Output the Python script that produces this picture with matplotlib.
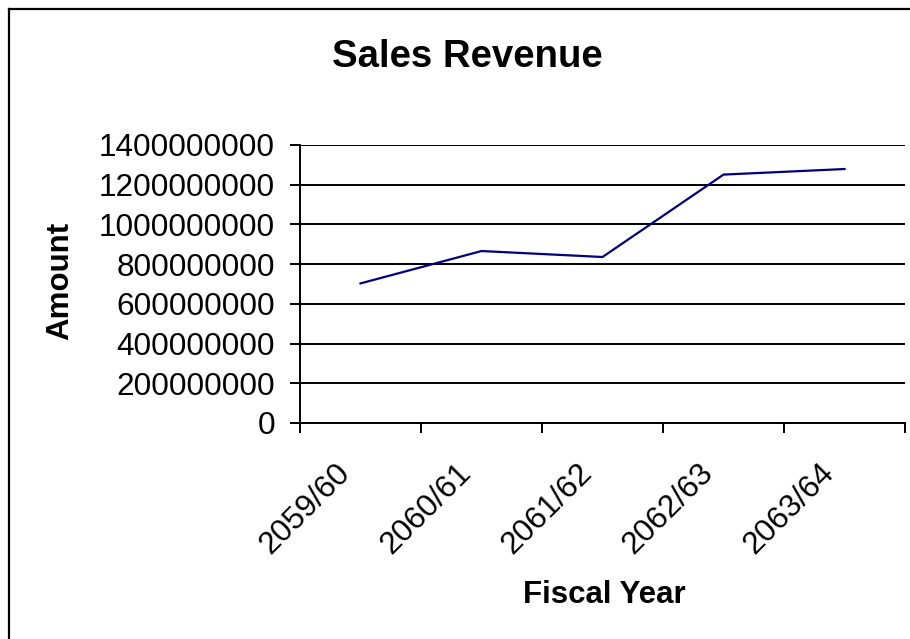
import matplotlib
matplotlib.use("Agg")
import matplotlib.pyplot as plt
from matplotlib.lines import Line2D
from matplotlib.transforms import ScaledTranslation

# Sales revenue by fiscal year
fiscal_years = ["2059/60", "2060/61", "2061/62", "2062/63", "2063/64"]
revenue = [703000000, 866000000, 836000000, 1251000000, 1279000000]
y_ticks = [0, 200000000, 400000000, 600000000, 800000000,
           1000000000, 1200000000, 1400000000]

plt.rcParams["font.family"] = ["Liberation Sans", "DejaVu Sans"]

W, H = 910, 639
fig = plt.figure(figsize=(W / 100, H / 100), dpi=100)
fig.patch.set_facecolor("white")

def fx(px):
    return px / W

def fy(py):
    return 1 - py / H

ax = fig.add_axes([fx(300), fy(423), fx(905) - fx(300), fy(145) - fy(423)])

centers = [i + 0.5 for i in range(len(fiscal_years))]
ax.plot(centers, revenue, color="#000080", linewidth=1.6, solid_joinstyle="miter")

ax.set_xlim(0, len(fiscal_years))
ax.set_ylim(0, 1400000000)

# Horizontal gridlines
ax.set_yticks(y_ticks)
ax.set_yticklabels([str(v) for v in y_ticks], fontsize=22.7)
ax.yaxis.grid(True, color="black", linewidth=1.4)
ax.set_axisbelow(True)

# Category boundaries carry the tick marks; labels sit at category centres
ax.set_xticks(range(len(fiscal_years) + 1))
ax.set_xticklabels([])
ax.set_xticks(centers, minor=True)
ax.set_xticklabels(fiscal_years, minor=True, fontsize=22.7, rotation=45,
                   ha="right", va="center", rotation_mode="anchor")
ax.tick_params(axis="x", which="major", direction="out", length=7,
               width=1.4, color="black")
ax.tick_params(axis="x", which="minor", length=0, pad=33)
ax.tick_params(axis="y", direction="out", length=7, width=1.4, pad=11)

# Nudge the slanted category labels a little to the left
shift = ScaledTranslation(-15 / 100, 0, fig.dpi_scale_trans)
for lbl in ax.get_xticklabels(minor=True):
    lbl.set_transform(lbl.get_transform() + shift)

for side in ("top", "right"):
    ax.spines[side].set_visible(False)
for side in ("left", "bottom"):
    ax.spines[side].set_linewidth(1.4)
    ax.spines[side].set_color("black")

fig.text(fx(467), fy(57), "Sales Revenue", fontsize=27.6, fontweight="bold",
         ha="center", va="center")
fig.text(fx(604), fy(595), "Fiscal Year", fontsize=22.5, fontweight="bold",
         ha="center", va="center")
fig.text(fx(60), fy(281), "Amount", fontsize=22.5, fontweight="bold",
         ha="center", va="center", rotation=90)

# Chart frame (only its top and left edges fall inside the image)
fig.add_artist(Line2D([fx(9), 1.0], [fy(9), fy(9)], color="black",
                      linewidth=1.6, transform=fig.transFigure))
fig.add_artist(Line2D([fx(9), fx(9)], [0.0, fy(9)], color="black",
                      linewidth=1.6, transform=fig.transFigure))

fig.savefig("out.png", dpi=100, facecolor="white")
